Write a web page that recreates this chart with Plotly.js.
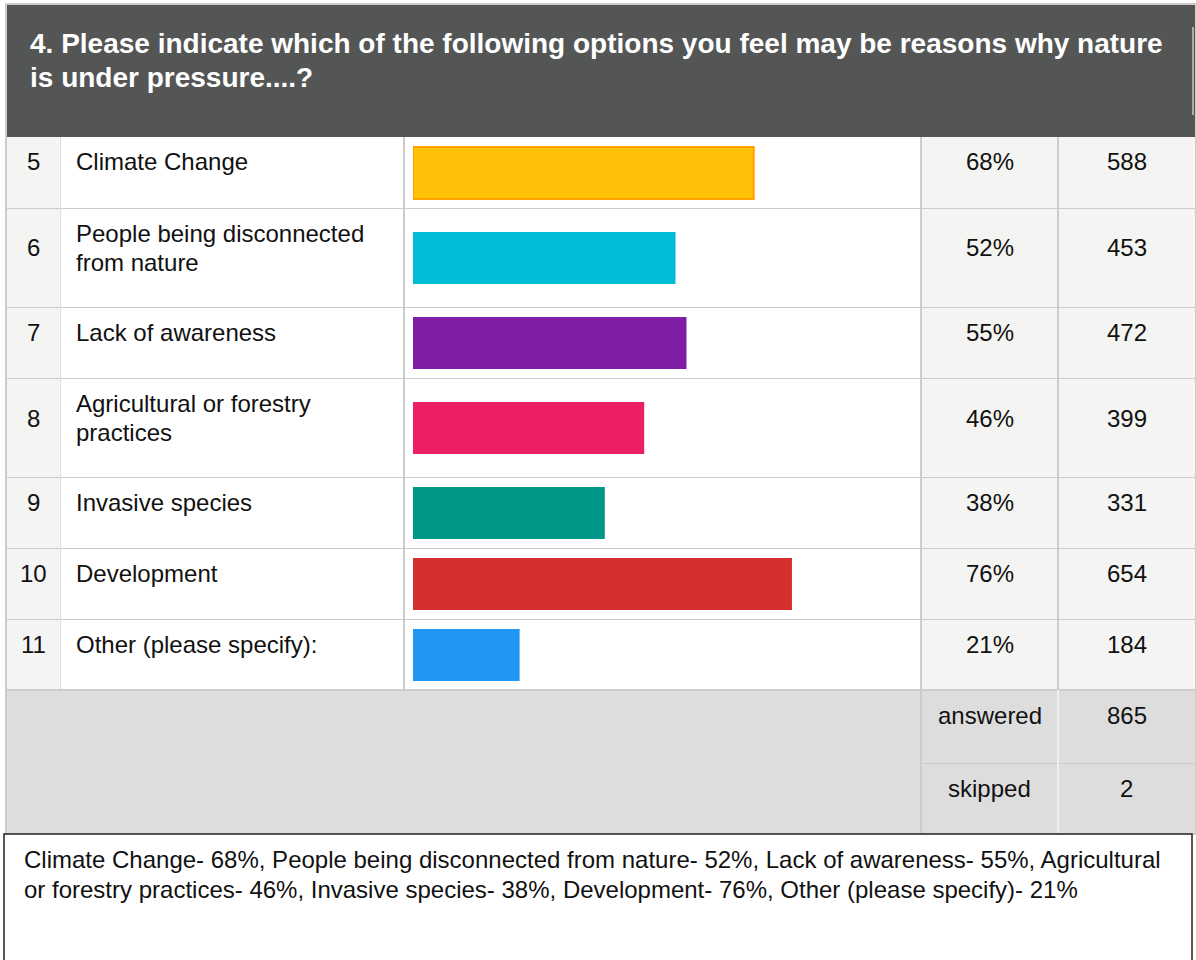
<!DOCTYPE html>
<html>
<head>
<meta charset="utf-8">
<script src="https://cdn.plot.ly/plotly-3.0.1.min.js"></script>
<style>
  html, body { margin: 0; padding: 0; background: #ffffff; }
  #chart { width: 1196px; height: 960px; }
</style>
</head>
<body>
<div id="chart"></div>
<script>
// ---------- data ----------
const titleText = "4. Please indicate which of the following options you feel may be reasons why nature is under pressure....?";
const rowNumbers = [5, 6, 7, 8, 9, 10, 11];
const categories = [
  "Climate Change",
  "People being disconnected from nature",
  "Lack of awareness",
  "Agricultural or forestry practices",
  "Invasive species",
  "Development",
  "Other (please specify):"
];
const percents = [68, 52, 55, 46, 38, 76, 21];
const counts = [588, 453, 472, 399, 331, 654, 184];
const summaryLabels = ["answered", "skipped"];
const summaryValues = [865, 2];

// ---------- styles ----------
const barColors = ["#FFC107", "#00BCD4", "#801FA6", "#EC1F65", "#009688", "#D32F2F", "#2196F3"];
const barLineColors = ["#FFA000", "rgba(0,0,0,0)", "rgba(0,0,0,0)", "rgba(0,0,0,0)", "rgba(0,0,0,0)", "rgba(0,0,0,0)", "rgba(0,0,0,0)"];
const barLineWidths = [2, 0, 0, 0, 0, 0, 0];

(function () {
const W = 1196, H = 960;
const FONT = "Liberation Sans, Arial, Helvetica, sans-serif";
const GRID = "#cccccc";
const CELL_BG = "#f4f4f2";
const answered = summaryValues[0];

function px(x) { return x / W; }
function py(y) { return 1 - y / H; }

function wrap(text, maxChars) {
  const words = text.split(" ");
  const lines = [];
  let cur = "";
  words.forEach(w => {
    if (cur === "") cur = w;
    else if ((cur + " " + w).length <= maxChars) cur += " " + w;
    else { lines.push(cur); cur = w; }
  });
  if (cur) lines.push(cur);
  return lines;
}

// column edges (px)
const COL = { left: 7, num: 60, label: 404, bar: 921, pct: 1058, right: 1195 };
const BAR_X0 = 413, BAR_FULL = 501.2;

const bgShapes = [];
const lineShapes = [];
const annotations = [];

function rect(x0, y0, x1, y1, fill, lineColor, lineWidth) {
  bgShapes.push({
    type: "rect", xref: "paper", yref: "paper", layer: "below",
    x0: px(x0), x1: px(x1), y0: py(y1), y1: py(y0),
    fillcolor: fill || "rgba(0,0,0,0)",
    line: { color: lineColor || "rgba(0,0,0,0)", width: lineWidth || 0 }
  });
}
function line(x0, y0, x1, y1, color, width) {
  lineShapes.push({
    type: "line", xref: "paper", yref: "paper", layer: "below",
    x0: px(x0), x1: px(x1), y0: py(y0), y1: py(y1),
    line: { color: color, width: width }
  });
}
function hline(x0, x1, y, color) { line(x0, y + 0.5, x1, y + 0.5, color, 1); }
function text(t, x, y, xanchor, opts) {
  opts = opts || {};
  annotations.push({
    xref: "paper", yref: "paper", x: px(x), y: py(y),
    xanchor: xanchor, yanchor: "middle", showarrow: false,
    text: t,
    font: { family: FONT, size: opts.size || 24, color: opts.color || "#111111", weight: opts.weight || "normal" }
  });
}

// outer frame and header
rect(6, 4, 1196, 834, "#ffffff", GRID, 2);
rect(7, 5, COL.right, 137, "#545655");
line(1193, 27, 1193, 115, "#ffffff", 1);
wrap(titleText, 86).forEach((l, i) => {
  text(l, 28, 43 + i * 34, "left", { size: 28, color: "#ffffff", weight: "bold" });
});

// rows
let rowTop = 137;
const rowCenters = [];
categories.forEach((cat, i) => {
  const lines = wrap(cat, 26);
  const h = lines.length === 1 ? 71 : 99;
  const bottom = rowTop + h;
  rect(COL.left, rowTop, COL.num, bottom, CELL_BG);
  rect(COL.num, rowTop, COL.bar, bottom, "#ffffff");
  rect(COL.bar, rowTop, COL.right, bottom, CELL_BG);
  if (i < categories.length - 1) hline(COL.left, COL.right, bottom, GRID);
  const blockCenter = rowTop + 10 + 15 * lines.length;
  text(String(rowNumbers[i]), (COL.left + COL.num) / 2, blockCenter, "center");
  lines.forEach((l, k) => {
    text(l, 74, blockCenter + (k - (lines.length - 1) / 2) * 29.5, "left");
  });
  text(percents[i] + "%", (COL.bar + COL.pct) / 2, blockCenter, "center");
  text(String(counts[i]), (COL.pct + COL.right) / 2, blockCenter, "center");
  rowCenters.push(rowTop + h / 2 + 0.5);
  rowTop = bottom;
});
const rowsBottom = rowTop;
line(COL.num + 0.5, 137, COL.num + 0.5, rowsBottom, "#dedede", 1);
line(COL.label, 137, COL.label, rowsBottom, GRID, 2);
line(COL.bar, 137, COL.bar, rowsBottom, GRID, 2);
line(COL.pct, 137, COL.pct, rowsBottom, GRID, 2);

// summary
const sumBottom = 833;
rect(COL.left, rowsBottom, COL.right, sumBottom, "#dddddd");
line(COL.left, rowsBottom, COL.right, rowsBottom, GRID, 2);
const sumRowH = [73, 70];
let st = rowsBottom;
summaryLabels.forEach((lab, i) => {
  const c = st + 25.5;
  text(lab, (COL.bar + COL.pct) / 2, c, "center");
  text(String(summaryValues[i]), (COL.pct + COL.right) / 2, c, "center");
  st += sumRowH[i];
  if (i === 0) hline(COL.bar, COL.right, st, GRID);
});
line(COL.bar, rowsBottom, COL.bar, sumBottom, GRID, 2);
line(COL.pct, rowsBottom, COL.pct, sumBottom, "#eeeeee", 2);

// bottom description box
rect(4, 834, 1192, 962, "#ffffff", "#222222", 1.5);
const desc = categories.map((c, i) => c.replace(/:$/, "") + "- " + percents[i] + "%").join(", ");
wrap(desc, 102).forEach((l, i) => {
  text(l, 22, 859 + i * 30, "left");
});

// bars
const trace = {
  type: "bar",
  orientation: "h",
  x: counts.map(c => c / answered),
  y: rowCenters,
  width: 52,
  marker: { color: barColors, line: { color: barLineColors, width: barLineWidths } },
  hoverinfo: "skip",
  showlegend: false
};

const layout = {
  width: W, height: H,
  margin: { l: 0, r: 0, t: 0, b: 0, pad: 0 },
  paper_bgcolor: "#ffffff",
  plot_bgcolor: "rgba(0,0,0,0)",
  showlegend: false,
  xaxis: { domain: [px(BAR_X0), px(BAR_X0 + BAR_FULL)], range: [0, 1], visible: false, fixedrange: true },
  yaxis: { domain: [0, 1], range: [H, 0], visible: false, fixedrange: true },
  shapes: bgShapes.slice(0, bgShapes.length - 1).concat(lineShapes, bgShapes.slice(bgShapes.length - 1)),
  annotations: annotations,
  bargap: 0
};

Plotly.newPlot("chart", [trace], layout, { displayModeBar: false, staticPlot: true });
})();
</script>
</body>
</html>
